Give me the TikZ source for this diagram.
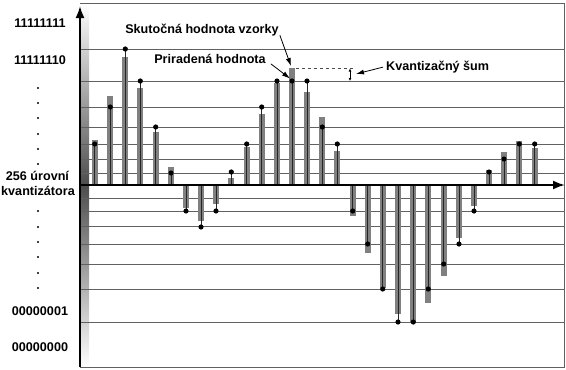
\documentclass[tikz,border=0pt]{standalone}
\usepackage{fontspec}
\setmainfont{Liberation Sans}
\usetikzlibrary{arrows.meta}
\begin{document}
\begin{tikzpicture}[x=1pt,y=-1pt,
  lbl/.style={font=\fontsize{12.6}{14}\selectfont\bfseries, inner sep=0pt, anchor=base},
  gridline/.style={draw=black!62, line width=1pt},
  barfill/.style={fill=black!50},
  stem/.style={draw=black!85, line width=0.8pt},
  axisline/.style={draw=black, line width=2pt, -{Latex[length=12pt,width=9pt]}},
  pointer/.style={draw=black, line width=0.8pt, -{Latex[length=8pt,width=5pt]}}]
\useasboundingbox (0,0) rectangle (566,370);
% gradient strip
\shade[top color=white, bottom color=black!70] (80,3) rectangle (89,185);
\shade[top color=black!70, bottom color=white] (89,185) rectangle (80,367);
% quantization levels
\foreach \y in {49,81,107,127,144,159,173,198,211,226,244,264,289,322}
  \draw[gridline] (80,\y) -- (564,\y);
\draw[gridline] (80,3) -- (564,3) -- (564,367) -- (80,367);
% samples: x / true value / quantized value
\foreach \x/\t/\q in {94.7/140/144, 110.3/96/107, 125.3/57/49, 140.3/88/81,
  155.7/132/127, 171/167/173, 186/208/211, 201/221/227, 216/204/211,
  231.3/178/172, 246.7/147/144, 261.7/114/107, 277/83/81, 292/68/81,
  307/92/81, 322.3/117/127, 337.3/151/144, 352.7/216/211, 367.7/253/244,
  382.7/288/289, 398/314/322, 413.3/322/322, 428.3/303/289, 443.7/276/264,
  459/238/244, 474/206/211, 489/170/172, 504/152/159, 519.3/141/144,
  534.7/148/144}{
  \fill[barfill] (\x-3,185) rectangle (\x+3,\t);
  \draw[stem] (\x,185) -- (\x,\q);
  \fill (\x,\q) circle (2.6);
}
% axes
\coordinate (origin) at (80,185);
\coordinate (bottom) at (80,367);
\coordinate (ytip) at (80,6);
\coordinate (xtip) at (565,185);
\draw[axisline] (bottom) -- (ytip);
\draw[axisline] (origin) -- (xtip);
% left labels
\node[lbl] (l255) at (40,27.3) {11111111};
\node[lbl] (l254) at (40,64) {11111110};
\node[lbl] (lmid1) at (37.5,180.5) {256 úrovní};
\node[lbl] (lmid2) at (38,195.5) {kvantizátora};
\node[lbl] (l1) at (40,315.3) {00000001};
\node[lbl] (l0) at (40,351.7) {00000000};
\foreach \y in {88,103,118,134,149,164,211,227,242,257,273,288}
  \fill (38,\y) circle (1.1);
% annotations
\node[lbl] (skut) at (202,33.5) {Skutočná hodnota vzorky};
\node[lbl] (prir) at (210,63.5) {Priradená hodnota};
\node[lbl, anchor=base west] (kvant) at (386,70.5) {Kvantizačný šum};
\coordinate (s14top) at (291,66);
\coordinate (s14dot) at (290,78.5);
\coordinate (dashA) at (296,68);
\coordinate (dashB) at (353,68);
\coordinate (dimT) at (350,68.5);
\coordinate (dimB) at (350,81);
\coordinate (dimM) at (356,74);
\draw[pointer] ([xshift=1pt,yshift=1pt]skut.south east) -- (s14top);
\draw[pointer] ([xshift=5pt]prir.south east) -- (s14dot);
\draw[dashed, draw=black!70, line width=0.8pt] (dashA) -- (dashB);
\draw[line width=0.7pt, {Latex[length=3pt,width=3pt]}-{Latex[length=3pt,width=3pt]}] (dimT) -- (dimB);
\draw[pointer] ([xshift=-3pt]kvant.west) -- (dimM);
\end{tikzpicture}
\end{document}
